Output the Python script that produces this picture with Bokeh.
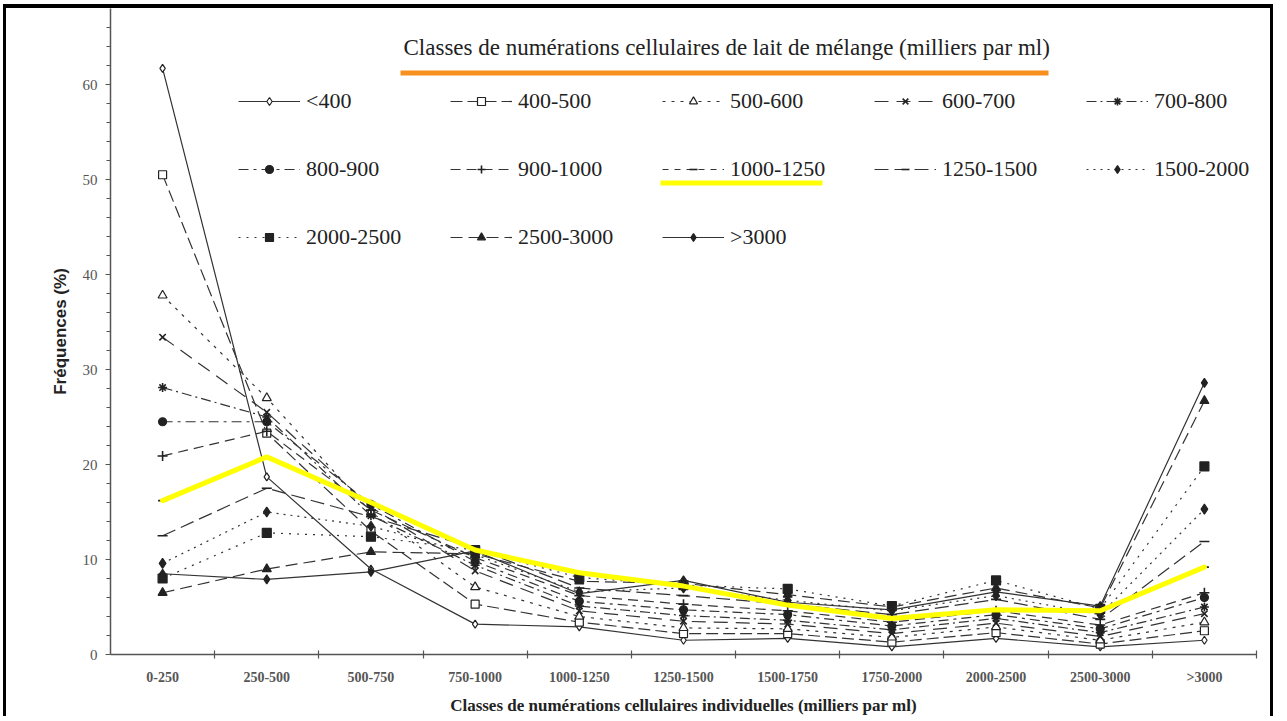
from bokeh.plotting import figure
from bokeh.models import Range1d, FixedTicker, Legend, LegendItem, Label, BoxAnnotation
from bokeh.embed import file_html
from bokeh.resources import INLINE

# ---- data -------------------------------------------------------------
categories = ["0-250", "250-500", "500-750", "750-1000", "1000-1250", "1250-1500",
              "1500-1750", "1750-2000", "2000-2500", "2500-3000", ">3000"]

series_names = ["<400", "400-500", "500-600", "600-700", "700-800", "800-900",
                "900-1000", "1000-1250", "1250-1500", "1500-2000", "2000-2500",
                "2500-3000", ">3000"]

s_lt400     = [61.7, 18.7,  9.0,  3.2, 2.9, 1.5, 1.7, 0.8, 1.7, 0.8,  1.5]
s_400_500   = [50.5, 23.3, 13.0,  5.3, 3.4, 2.2, 2.2, 1.3, 2.3, 1.1,  2.5]
s_500_600   = [37.8, 27.0, 15.0,  7.1, 4.0, 2.8, 2.7, 1.8, 2.9, 1.5,  3.4]
s_600_700   = [33.4, 25.5, 15.5,  8.8, 4.6, 3.5, 3.2, 2.2, 3.3, 1.9,  4.3]
s_700_800   = [28.1, 25.0, 14.6,  9.4, 5.1, 4.1, 3.6, 2.6, 3.8, 2.3,  5.0]
s_800_900   = [24.5, 24.5, 15.8,  9.8, 5.6, 4.7, 4.2, 3.0, 4.2, 2.7,  6.0]
s_900_1000  = [20.9, 23.5, 15.2, 10.2, 6.2, 5.3, 4.6, 3.4, 4.6, 3.1,  6.5]
s_1000_1250 = [16.2, 20.8, 16.0, 11.0, 8.6, 7.2, 5.2, 3.8, 4.7, 4.6,  9.2]
s_1250_1500 = [12.5, 17.5, 14.5, 11.2, 7.0, 6.2, 5.3, 4.2, 5.8, 3.7, 11.9]
s_1500_2000 = [ 9.6, 15.0, 13.5, 10.5, 6.6, 7.0, 5.7, 4.6, 6.2, 4.2, 15.3]
s_2000_2500 = [ 8.0, 12.8, 12.4, 11.0, 8.1, 7.3, 6.9, 5.1, 7.8, 4.8, 19.8]
s_2500_3000 = [ 6.5,  9.0, 10.8, 10.6, 7.7, 7.5, 6.3, 5.0, 7.0, 4.9, 26.7]
s_gt3000    = [ 8.5,  7.9,  8.7, 10.9, 6.4, 7.8, 5.5, 4.7, 6.6, 5.1, 28.6]

series_values = [s_lt400, s_400_500, s_500_600, s_600_700, s_700_800, s_800_900,
                 s_900_1000, s_1000_1250, s_1250_1500, s_1500_2000, s_2000_2500,
                 s_2500_3000, s_gt3000]

highlighted = "1000-1250"

y_ticks = [0, 10, 20, 30, 40, 50, 60]

# ---- styles (line dash, marker, open/filled, size) --------------------
styles = [
    ("solid",       "diamond",  True,  8),
    ("12 5",        "square",   True,  8),
    ("3 6",         "triangle", True,  9),
    ("14 8",        "x",        True,  9),
    ("10 4 2 4",    "asterisk", True,  9),
    ("10 5 3 5",    "circle",   False, 8),
    ("10 6",        "cross",    True,  10),
    ("6 6",         "dash",     False, 9),
    ("14 6",        "dash",     False, 10),
    ("2 5",         "diamond",  False, 10),
    ("2 6",         "square",   False, 9),
    ("12 6",        "triangle", False, 9),
    ("solid",       "diamond",  False, 9),
]

INK = "#333333"
SERIF = "Liberation Serif"

W, H = 1270, 712
p = figure(width=W, height=H, output_backend="svg", toolbar_location=None,
           x_range=Range1d(-0.5, 10.5), y_range=Range1d(0, 68),
           min_border_left=104, min_border_right=20, min_border_top=0,
           min_border_bottom=66, background_fill_color="white",
           border_fill_color="white", outline_line_color=None)
p.styles = {"border-top": "4px solid #000", "border-left": "3px solid #000",
            "border-right": "3px solid #000", "margin-left": "3px", "margin-top": "4px"}

p.xgrid.visible = False
p.ygrid.visible = False

x_idx = list(range(len(categories)))

items = []
for name, vals, (dash, marker, is_open, size) in zip(series_names, series_values, styles):
    lr = p.line(x_idx, vals, line_color=INK, line_width=1.2, line_dash=dash)
    sr = p.scatter(x_idx, vals, marker=marker, size=size, line_color="#222222",
                   line_width=1.6 if marker in ("x", "cross", "asterisk", "dash") else 1.2,
                   fill_color="white" if is_open else "#222222")
    items.append(LegendItem(label=name, renderers=[lr, sr]))

# yellow hand-drawn highlight over the 1000-1250 series
hl_vals = series_values[series_names.index(highlighted)]
p.line(x_idx, hl_vals, line_color="#FFFF00", line_width=5, line_join="round", line_cap="round")

# ---- axes ---------------------------------------------------------------
p.xaxis.ticker = FixedTicker(ticks=x_idx, minor_ticks=[i + 0.5 for i in range(len(categories))])
p.xaxis.major_label_overrides = {i: c for i, c in enumerate(categories)}
p.xaxis.major_tick_in = 0
p.xaxis.major_tick_out = 0
p.xaxis.minor_tick_in = 4
p.xaxis.minor_tick_out = 4
p.xaxis.major_label_standoff = 11
p.xaxis.major_label_text_font = SERIF
p.xaxis.major_label_text_font_size = "14px"
p.xaxis.major_label_text_font_style = "bold"
p.xaxis.major_label_text_color = "#555555"
p.xaxis.axis_label = "Classes de numérations cellulaires individuelles (milliers par ml)"
p.xaxis.axis_label_text_font = SERIF
p.xaxis.axis_label_text_font_size = "17px"
p.xaxis.axis_label_text_font_style = "bold"
p.xaxis.axis_label_text_color = "#222222"
p.xaxis.axis_label_standoff = 8

p.yaxis.ticker = FixedTicker(ticks=y_ticks, minor_ticks=list(range(0, 68, 2)))
p.yaxis.major_tick_in = 0
p.yaxis.major_tick_out = 5
p.yaxis.minor_tick_in = 0
p.yaxis.minor_tick_out = 4
p.yaxis.major_label_standoff = 8
p.yaxis.major_label_text_font = SERIF
p.yaxis.major_label_text_font_size = "15px"
p.yaxis.major_label_text_color = "#555555"
p.yaxis.axis_label = "Fréquences (%)"
p.yaxis.axis_label_text_font = "Liberation Sans"
p.yaxis.axis_label_text_font_size = "17px"
p.yaxis.axis_label_text_font_style = "bold"
p.yaxis.axis_label_text_color = "#222222"
p.yaxis.axis_label_standoff = 10

for ax in (p.xaxis[0], p.yaxis[0]):
    ax.axis_line_color = "#555555"
    ax.axis_line_width = 1.5
    ax.major_tick_line_color = "#555555"
    ax.minor_tick_line_color = "#555555"
    ax.minor_tick_line_width = 1.2

# ---- legend -----------------------------------------------------------
legend = Legend(items=items, orientation="horizontal", ncols=5, location=(128, 404),
                glyph_width=62, glyph_height=20, label_width=102, label_height=20,
                label_standoff=6, spacing=42, padding=0, margin=0,
                border_line_color=None, background_fill_alpha=0,
                label_text_font=SERIF, label_text_font_size="22px",
                label_text_color="#222222")
p.add_layout(legend)

# ---- title and hand-made underlines ---------------------------------------
p.add_layout(Label(x=293, y=607, x_units="screen", y_units="screen",
                   text="Classes de numérations cellulaires de lait de mélange (milliers par ml)",
                   text_font=SERIF, text_font_size="23px", text_baseline="middle",
                   text_color="#222222"))
p.add_layout(BoxAnnotation(left=290, right=938, bottom=579, top=584,
                           left_units="screen", right_units="screen",
                           bottom_units="screen", top_units="screen",
                           fill_color="#F7901E", fill_alpha=1, line_color=None))
p.add_layout(BoxAnnotation(left=550, right=712, bottom=469, top=474,
                           left_units="screen", right_units="screen",
                           bottom_units="screen", top_units="screen",
                           fill_color="#FFFF00", fill_alpha=1, line_color=None))

open("out.html", "w").write(file_html(p, INLINE))
